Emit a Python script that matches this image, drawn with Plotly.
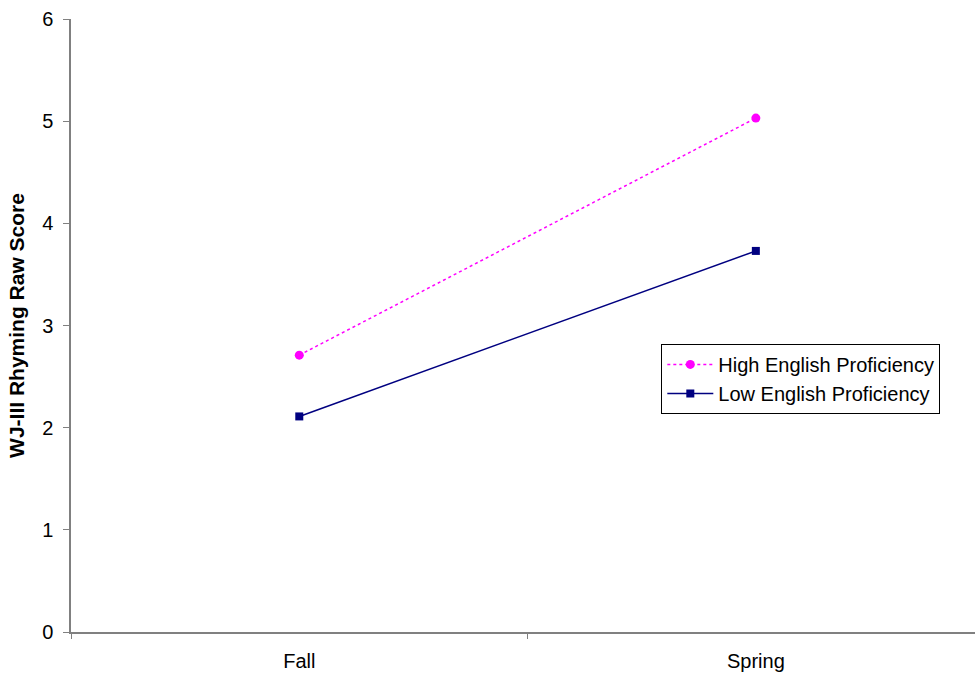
import plotly.graph_objects as go

seasons = ["Fall", "Spring"]
high_prof = [2.71, 5.03]
low_prof = [2.11, 3.73]

font_family = "Liberation Sans, Arial, sans-serif"

fig = go.Figure()
fig.add_trace(go.Scatter(
    x=seasons, y=high_prof, name="High English Proficiency",
    mode="lines+markers",
    line=dict(color="#FF00FF", width=1.5, dash="dot"),
    marker=dict(symbol="circle", size=9, color="#FF00FF"),
))
fig.add_trace(go.Scatter(
    x=seasons, y=low_prof, name="Low English Proficiency",
    mode="lines+markers",
    line=dict(color="#000080", width=1.5),
    marker=dict(symbol="square", size=8, color="#000080"),
))

fig.update_layout(
    width=975, height=677,
    margin=dict(l=71, r=0, t=19, b=45),
    paper_bgcolor="white", plot_bgcolor="white",
    font=dict(family=font_family, size=20, color="black"),
    showlegend=True,
    legend=dict(
        x=0.653, y=0.47, xanchor="left", yanchor="top",
        bordercolor="black", borderwidth=1, bgcolor="white",
        font=dict(size=20, family=font_family),
        tracegroupgap=0, itemwidth=46,
    ),
    xaxis=dict(
        type="category", range=[-0.5, 1.48],
        tickson="boundaries", ticks="outside", ticklen=5,
        showline=True, linecolor="#808080", linewidth=2,
        tickcolor="#808080", showgrid=False, zeroline=False,
        tickfont=dict(size=20), ticklabelstandoff=10,
    ),
    yaxis=dict(
        range=[0, 6], dtick=1, ticks="outside", ticklen=6,
        showline=True, linecolor="#808080", linewidth=1.5,
        tickcolor="#808080", showgrid=False, zeroline=False,
        tickfont=dict(size=20), ticklabelstandoff=6,
        title=dict(text="<b>WJ-III Rhyming Raw Score</b>", font=dict(size=21), standoff=12),
    ),
)

fig.write_html("out.html")
